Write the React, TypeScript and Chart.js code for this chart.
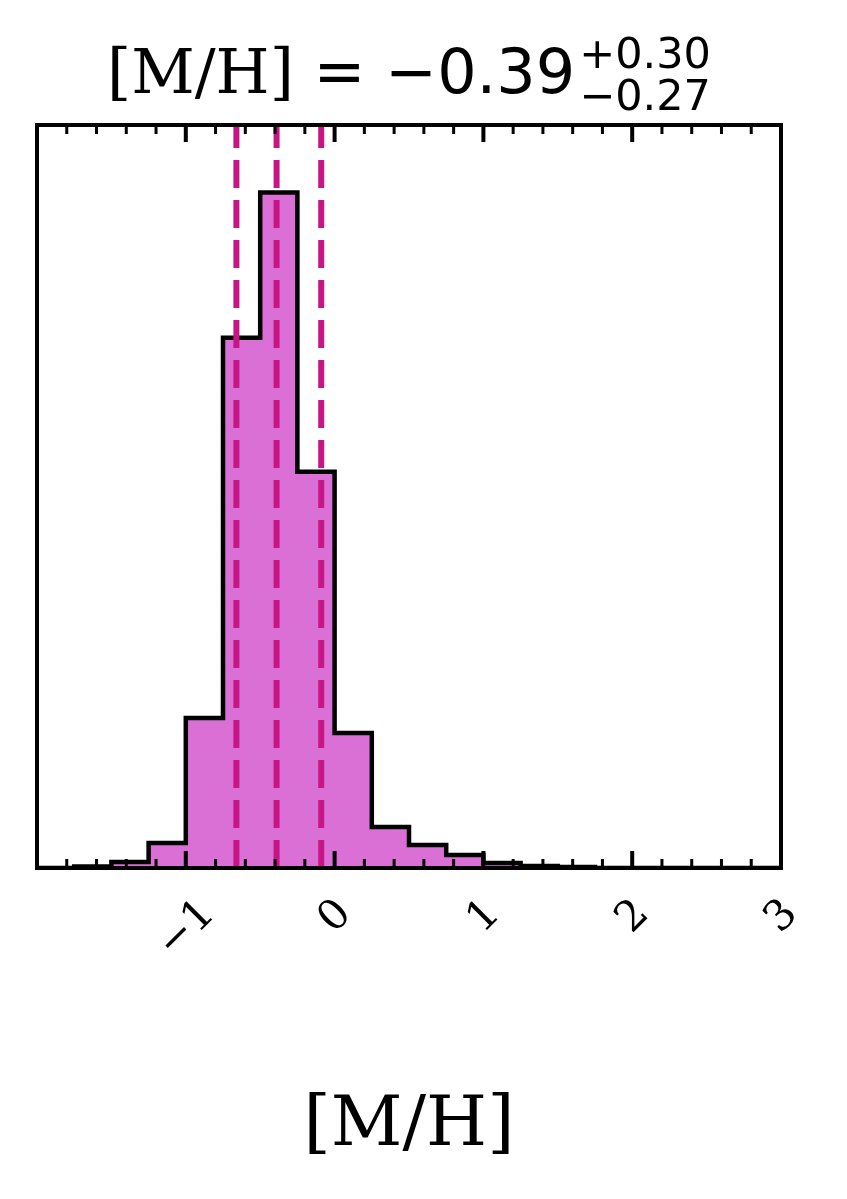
import React, { useEffect, useRef } from 'react';
import { Chart, registerables } from 'chart.js';

Chart.register(...registerables);

// ---- data ----
const binEdges = [
  -2.0, -1.75, -1.5, -1.25, -1.0, -0.75, -0.5, -0.25, 0.0, 0.25, 0.5,
  0.75, 1.0, 1.25, 1.5, 1.75, 2.0, 2.25, 2.5, 2.75, 3.0,
];
const binCounts = [
  0, 1.5, 6, 25, 150, 530, 675, 396, 135, 41, 23, 13, 5, 2, 1, 0, 0, 0, 0, 0,
];
const quantileLines = [-0.66, -0.39, -0.09];
const majorTicks = [-1, 0, 1, 2, 3];
const majorTickLabels = ['\u22121', '0', '1', '2', '3'];
const minorTicks = [
  -1.8, -1.6, -1.4, -1.2, -0.8, -0.6, -0.4, -0.2, 0.2, 0.4, 0.6, 0.8,
  1.2, 1.4, 1.6, 1.8, 2.2, 2.4, 2.6, 2.8,
];
const xMin = -2;
const xMax = 3;
const titleName = '[M/H]';
const titleValue = ' = \u22120.39';
const titleUpper = '+0.30';
const titleLower = '\u22120.27';
const xAxisLabel = '[M/H]';

const FILL = '#DA70D6';
const LINE = '#C71585';
const SERIF = '"DejaVu Serif"';
const SANS = '"DejaVu Sans"';

export default function App() {
  const ref = useRef<HTMLCanvasElement | null>(null);

  useEffect(() => {
    document.body.style.margin = '0';
    const canvas = ref.current;
    if (!canvas) return;

    // step points: value of bin i held from edge i to edge i+1
    const stepData = binEdges.map((e, i) => ({
      x: e,
      y: binCounts[Math.min(i, binCounts.length - 1)],
    }));
    const yMax = Math.max(...binCounts) * 1.1;

    const decor = {
      id: 'decor',
      afterDatasetsDraw(chart: any) {
        const ctx = chart.ctx as CanvasRenderingContext2D;
        const xs = chart.scales.x;
        const area = chart.chartArea;
        ctx.save();
        ctx.strokeStyle = LINE;
        ctx.lineWidth = 6;
        ctx.setLineDash([28, 12]);
        ctx.lineCap = 'butt';
        for (const q of quantileLines) {
          const x = xs.getPixelForValue(q);
          ctx.beginPath();
          ctx.moveTo(x, area.bottom);
          ctx.lineTo(x, area.top);
          ctx.stroke();
        }
        ctx.restore();
      },
      afterDraw(chart: any) {
        const ctx = chart.ctx as CanvasRenderingContext2D;
        const xs = chart.scales.x;
        const area = chart.chartArea;
        const { left, right, top, bottom } = area;
        ctx.save();
        ctx.strokeStyle = '#000';
        ctx.lineWidth = 4;
        ctx.strokeRect(left, top, right - left, bottom - top);
        const drawTick = (v: number, len: number, w: number) => {
          const x = xs.getPixelForValue(v);
          ctx.lineWidth = w;
          ctx.beginPath();
          ctx.moveTo(x, bottom);
          ctx.lineTo(x, bottom - len);
          ctx.moveTo(x, top);
          ctx.lineTo(x, top + len);
          ctx.stroke();
        };
        for (const v of minorTicks) drawTick(v, 9, 3);
        for (const v of majorTicks) drawTick(v, 17, 4);

        ctx.fillStyle = '#000';
        const fs = 42;
        ctx.font = `${fs}px ${SERIF}`;
        majorTicks.forEach((v, i) => {
          const lbl = majorTickLabels[i];
          const x = xs.getPixelForValue(v);
          const w = ctx.measureText(lbl).width;
          const cy = bottom + 26 + (w + 30) * 0.3536;
          const cx = x - 2;
          ctx.save();
          ctx.translate(cx, cy);
          ctx.rotate(-Math.PI / 4);
          ctx.textAlign = 'center';
          ctx.textBaseline = 'alphabetic';
          ctx.fillText(lbl, 0, 0.364 * fs);
          ctx.restore();
        });

        ctx.font = `70px ${SERIF}`;
        ctx.textAlign = 'center';
        ctx.textBaseline = 'alphabetic';
        ctx.fillText(xAxisLabel, (left + right) / 2, 1145);

        const cx = (left + right) / 2;
        const big = 62;
        const small = 43;
        ctx.textAlign = 'left';
        ctx.font = `${big}px ${SERIF}`;
        const w1 = ctx.measureText(titleName).width;
        ctx.font = `${big}px ${SANS}`;
        const w2 = ctx.measureText(titleValue).width;
        ctx.font = `${small}px ${SANS}`;
        const w3 = Math.max(
          ctx.measureText(titleUpper).width,
          ctx.measureText(titleLower).width
        );
        const total = w1 + w2 + 4 + w3;
        let x0 = cx - total / 2;
        const base = 93;
        ctx.font = `${big}px ${SERIF}`;
        ctx.fillText(titleName, x0, base);
        x0 += w1;
        ctx.font = `${big}px ${SANS}`;
        ctx.fillText(titleValue, x0, base);
        x0 += w2 + 4;
        ctx.font = `${small}px ${SANS}`;
        ctx.fillText(titleUpper, x0, 68);
        ctx.fillText(titleLower, x0, 110);
        ctx.restore();
      },
    };

    const chart = new Chart(canvas, {
      type: 'line',
      data: {
        datasets: [
          {
            data: stepData,
            stepped: 'before',
            fill: 'origin',
            backgroundColor: FILL,
            borderColor: '#000',
            borderWidth: 4.5,
            pointRadius: 0,
            tension: 0,
          } as any,
        ],
      },
      options: {
        responsive: false,
        animation: false,
        layout: { padding: { left: 37, right: 66, top: 125, bottom: 331 } },
        plugins: {
          legend: { display: false },
          tooltip: { enabled: false },
          title: { display: false },
        },
        scales: {
          x: { type: 'linear', min: xMin, max: xMax, display: false },
          y: { type: 'linear', min: 0, max: yMax, display: false },
        },
      },
      plugins: [decor],
    });
    return () => chart.destroy();
  }, []);

  return (
    <canvas
      ref={ref}
      width={847}
      height={1199}
      style={{ display: 'block', width: 847, height: 1199 }}
    />
  );
}
